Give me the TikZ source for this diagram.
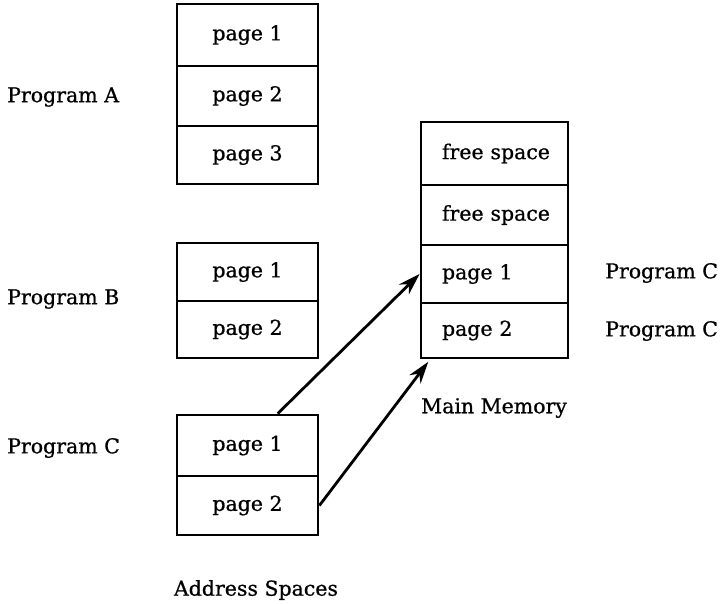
\documentclass[tikz,border=0pt]{standalone}
\usepackage{fontspec}
\setmainfont{DejaVu Serif}[FakeBold=0.8]
\usetikzlibrary{arrows.meta,calc}
\begin{document}
\begin{tikzpicture}[x=1pt,y=-1pt,
  every node/.style={font=\fontsize{20.5}{24}\selectfont},
  cell/.style={draw,line width=2.8pt,rectangle,inner sep=0pt,minimum width=141pt},
  mcell/.style={draw,line width=2.8pt,rectangle,inner xsep=0pt,inner ysep=0pt,text width=147pt,align=left},
  lbl/.style={anchor=west,inner sep=0pt},
  conn/.style={line width=2.8pt,-{Stealth[length=22pt,width=14pt]}}]
\useasboundingbox (0,0) rectangle (727,603);
% Program A
\node[cell,minimum height=62pt] (a1) at (247.5,35) {page 1};
\node[cell,minimum height=60pt] (a2) at (247.5,96) {page 2};
\node[cell,minimum height=58pt] (a3) at (247.5,155) {page 3};
% Program B
\node[cell,minimum height=58pt] (b1) at (247.5,272) {page 1};
\node[cell,minimum height=57pt] (b2) at (247.5,329.5) {page 2};
% Program C
\node[cell,minimum height=61pt] (c1) at (247.5,445.5) {page 1};
\node[cell,minimum height=59pt] (c2) at (247.5,505.5) {page 2};
% Main memory
\node[mcell,minimum height=63pt] (m1) at (494.5,153.5) {\hspace*{21pt}free space};
\node[mcell,minimum height=60pt] (m2) at (494.5,215) {\hspace*{21pt}free space};
\node[mcell,minimum height=58pt] (m3) at (494.5,274) {\hspace*{21pt}page 1};
\node[mcell,minimum height=55pt] (m4) at (494.5,330.5) {\hspace*{21pt}page 2};
% labels
\node[lbl] (la) at (7,97) {Program A};
\node[lbl] (lb) at (7,299) {Program B};
\node[lbl] (lc) at (7,448) {Program C};
\node[lbl] (r1) at (605,273) {Program C};
\node[lbl] (r2) at (605,331) {Program C};
\node[lbl] (mm) at (421,408) {Main Memory};
\node[inner sep=0pt] (as) at (256,590) {Address Spaces};
% connectors
\draw[conn] ($(c1.north)!0.42!(c1.north east)$) -- (m3.west);
\draw[conn,shorten >=3pt] (c2.east) -- ($(m4.south west)!0.07!(m4.south east)$);
\end{tikzpicture}
\end{document}
